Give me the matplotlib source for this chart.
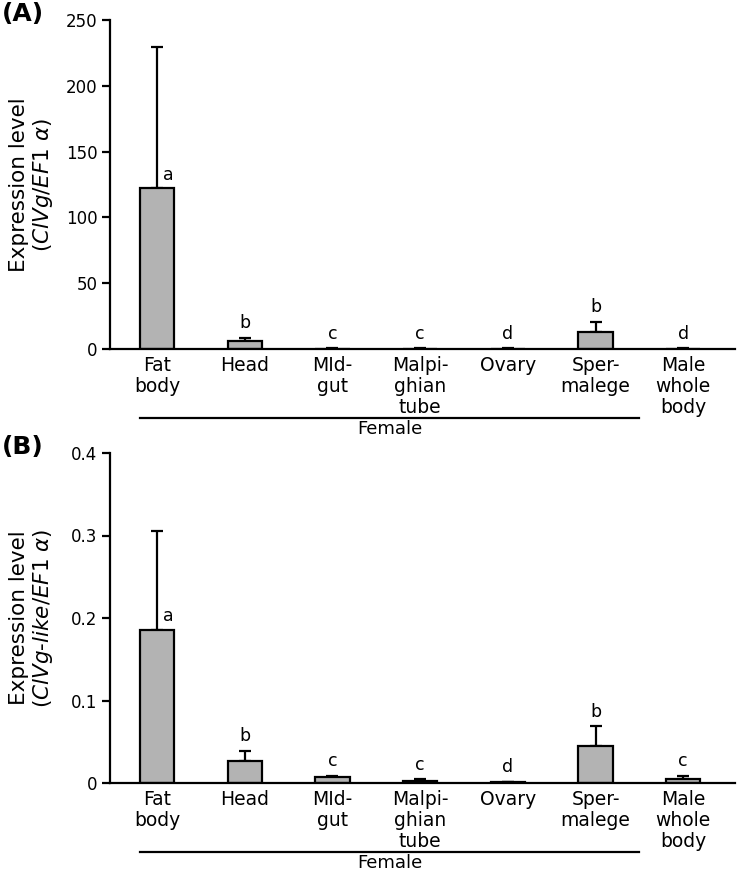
import matplotlib
matplotlib.use('Agg')
import matplotlib.pyplot as plt
import matplotlib.transforms as mtransforms

plt.rcParams['font.family'] = ['DejaVu Sans']
plt.rcParams['mathtext.fontset'] = 'dejavusans'

# Tissues
tissues = ['Fat\nbody', 'Head', 'MId-\ngut', 'Malpi-\nghian\ntube', 'Ovary', 'Sper-\nmalege', 'Male\nwhole\nbody']

# (A) ClVg / EF1a
vgMean = [122, 6, 0.3, 0.3, 0.2, 13, 0.2]
vgErr = [107.5, 2.5, 0.3, 0.3, 0.3, 7.5, 0.3]
vgLetters = ['a', 'b', 'c', 'c', 'd', 'b', 'd']

# (B) ClVg-like / EF1a
likeMean = [0.186, 0.027, 0.007, 0.003, 0.001, 0.045, 0.005]
likeErr = [0.119, 0.012, 0.002, 0.0015, 0.0005, 0.024, 0.004]
likeLetters = ['a', 'b', 'c', 'c', 'd', 'b', 'c']

fig = plt.figure(figsize=(7.38, 8.74), dpi=100)
axA = fig.add_axes([110/738, 1 - 349/874, 625/738, 329/874])
axB = fig.add_axes([110/738, 1 - 783/874, 625/738, 330/874])

def drawPanel(ax, means, errs, letters, ymax, yticks, yticklabels, ylabel, tag):
	x = list(range(len(means)))
	ax.bar(x, means, width=0.39, color='#b3b3b3', edgecolor='black', linewidth=1.6, zorder=2)
	ax.errorbar(x, means, yerr=[[0]*len(errs), errs], fmt='none', ecolor='black',
		elinewidth=1.6, capsize=4.3, capthick=1.6, zorder=1)
	for i in x:
		if i == 0:
			off = mtransforms.offset_copy(ax.transData, fig=fig, x=0, y=3, units='points')
			ax.text(i + 0.07, means[i], letters[i], transform=off, ha='left', va='bottom', fontsize=12.5)
		else:
			off = mtransforms.offset_copy(ax.transData, fig=fig, x=0, y=4, units='points')
			ax.text(i, means[i] + errs[i], letters[i], transform=off, ha='center', va='bottom', fontsize=12.5)
	ax.set_xlim(-0.536, 6.59)
	ax.set_ylim(0, ymax)
	ax.set_yticks(yticks)
	ax.set_yticklabels(yticklabels)
	ax.set_xticks(x)
	ax.set_xticklabels(tissues, fontsize=13.5, linespacing=1.15)
	ax.tick_params(axis='x', length=0, pad=5)
	ax.tick_params(axis='y', direction='out', length=6, width=1.6, labelsize=12, pad=3)
	for s in ['top', 'right']:
		ax.spines[s].set_visible(False)
	for s in ['left', 'bottom']:
		ax.spines[s].set_linewidth(1.6)
	ax.set_ylabel(ylabel, fontsize=15.5, linespacing=1.1)
	ax.yaxis.set_label_coords(-0.088, 0.5)
	# Female bracket line
	trans = mtransforms.blended_transform_factory(ax.transData, ax.transAxes)
	ax.plot([-0.19, 5.5], [-0.21, -0.21], color='black', linewidth=1.6, transform=trans, clip_on=False)
	ax.text(2.65, -0.257, 'Female', transform=trans, ha='center', va='baseline', fontsize=13)
	fig.text(0.003, ax.get_position().y1 + 0.021, tag, fontsize=18, fontweight='bold', ha='left', va='top')

drawPanel(axA, vgMean, vgErr, vgLetters, 250, [0, 50, 100, 150, 200, 250],
	['0', '50', '100', '150', '200', '250'],
	'Expression level\n($\\it{ClVg/EF1}$ $\\alpha$)', '(A)')
drawPanel(axB, likeMean, likeErr, likeLetters, 0.4, [0, 0.1, 0.2, 0.3, 0.4],
	['0', '0.1', '0.2', '0.3', '0.4'],
	'Expression level\n($\\it{ClVg}$-$\\it{like/EF1}$ $\\alpha$)', '(B)')

plt.savefig('out.png', dpi=100)
